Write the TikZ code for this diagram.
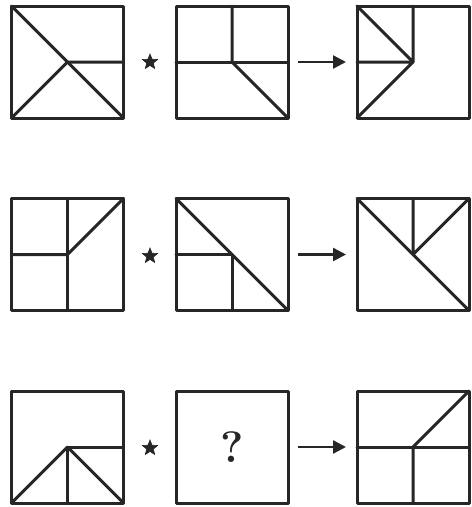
\documentclass[tikz,border=0pt]{standalone}
\usepackage{fontspec}
\usepackage{tikz}
\usetikzlibrary{arrows.meta,shapes.geometric}

\tikzset{
  seg/.style={draw=black!85, line width=3pt, line cap=round, line join=round},
  panel/.style={seg, minimum size=112pt, inner sep=0pt, outer sep=0pt},
  estrela/.style={star, star points=5, star point ratio=2.3, fill=black!85, draw=black!85, line width=0.6pt, inner sep=0pt, minimum size=16pt},
  seta/.style={draw=black!85, line width=2.4pt, -{Triangle[length=13pt,width=13pt]}, shorten <=10pt, shorten >=11pt}
}

\begin{document}
\begin{tikzpicture}[x=1pt,y=-1pt]

\useasboundingbox (0,0) rectangle (472,507);

% Linha 1
\node[panel] (a1) at (67.5,62) {};
\node[panel] (a2) at (232,62) {};
\node[panel] (a3) at (413,62) {};
\node[estrela] (s1) at (150,62) {};
\draw[seta] (a2.east) -- (a3.west);

\draw[seg] (a1.north west) -- (a1.center) -- (a1.south east);
\draw[seg] (a1.south west) -- (a1.center) -- (a1.east);

\draw[seg] (a2.north) -- (a2.center) -- (a2.south east);
\draw[seg] (a2.west) -- (a2.east);

\draw[seg] (a3.north) -- (a3.center) -- (a3.north west);
\draw[seg] (a3.west) -- (a3.center) -- (a3.south west);

% Linha 2
\node[panel] (b1) at (67.5,254.5) {};
\node[panel] (b2) at (232,254.5) {};
\node[panel] (b3) at (413,254.5) {};
\node[estrela] (s2) at (150,256) {};
\draw[seta] (b2.east) -- (b3.west);

\draw[seg] (b1.north) -- (b1.south);
\draw[seg] (b1.west) -- (b1.center) -- (b1.north east);

\draw[seg] (b2.north west) -- (b2.south east);
\draw[seg] (b2.west) -- (b2.center) -- (b2.south);

\draw[seg] (b3.north west) -- (b3.south east);
\draw[seg] (b3.north) -- (b3.center) -- (b3.north east);

% Linha 3
\node[panel] (c1) at (67.5,447) {};
\node[panel] (c2) at (232,447) {};
\node[panel] (c3) at (413,447) {};
\node[estrela] (s3) at (150,448) {};
\draw[seta] (c2.east) -- (c3.west);

\draw[seg] (c1.south west) -- (c1.center) -- (c1.south east);
\draw[seg] (c1.south) -- (c1.center) -- (c1.east);

% Incognita
\node[text=black!85, font=\fontsize{44}{46}\selectfont\bfseries] (q) at (c2.center) {?};

\draw[seg] (c3.west) -- (c3.east);
\draw[seg] (c3.south) -- (c3.center) -- (c3.north east);

\end{tikzpicture}
\end{document}
